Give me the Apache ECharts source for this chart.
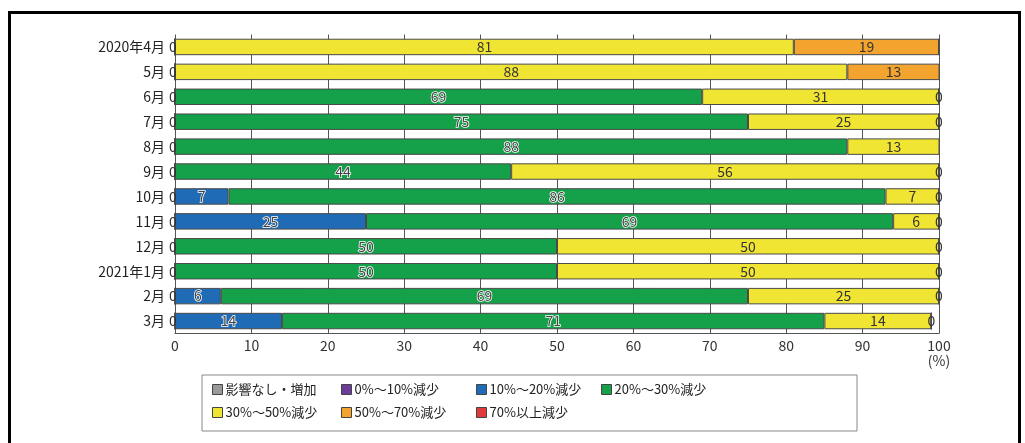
<!DOCTYPE html>
<html>
<head>
<meta charset="utf-8">
<script src="https://cdn.jsdelivr.net/npm/echarts@6/dist/echarts.min.js"></script>
<style>
  html, body { margin: 0; padding: 0; background: #fff; }
  #chart { width: 1025px; height: 443px; }
</style>
</head>
<body>
<div id="chart"></div>
<script>
// Months (fiscal year 2020)
const months = ['2020年4月', '5月', '6月', '7月', '8月', '9月', '10月', '11月', '12月', '2021年1月', '2月', '3月'];

// Share of operators (%) by decline band
const noEffect   = [0, 0, 0, 0, 0, 0, 0, 0, 0, 0, 0, 0];
const decl0to10  = [0, 0, 0, 0, 0, 0, 0, 0, 0, 0, 0, 0];
const decl10to20 = [0, 0, 0, 0, 0, 0, 7, 25, 0, 0, 6, 14];
const decl20to30 = [0, 0, 69, 75, 88, 44, 86, 69, 50, 50, 69, 71];
const decl30to50 = [81, 88, 31, 25, 13, 56, 7, 6, 50, 50, 25, 14];
const decl50to70 = [19, 13, 0, 0, 0, 0, 0, 0, 0, 0, 0, 0];
const decl70plus = [0, 0, 0, 0, 0, 0, 0, 0, 0, 0, 0, 0];

const xTicks = [0, 10, 20, 30, 40, 50, 60, 70, 80, 90, 100];

const names = ['影響なし・増加', '0%〜10%減少', '10%〜20%減少', '20%〜30%減少', '30%〜50%減少', '50%〜70%減少', '70%以上減少'];
const colors = ['#9a9a9a', '#6b3c98', '#1f6bb6', '#15a04a', '#f1e534', '#f3a42f', '#e03a3a'];
const values = [noEffect, decl0to10, decl10to20, decl20to30, decl30to50, decl50to70, decl70plus];

const FONT = '"Noto Sans CJK JP", "Noto Sans", sans-serif';

function labelFor(idx) {
  // the first and the 50–70% bands print every value, zeros included
  if (idx === 0 || idx === 5) {
    return {
      show: true, position: 'inside', fontSize: 14, fontFamily: FONT, color: '#333',
      offset: idx === 0 ? [-2, 0] : [0, 0],
      formatter: p => String(p.value)
    };
  }
  if (idx === 2 || idx === 3) {
    return {
      show: true, position: 'inside', fontSize: 14, fontFamily: FONT, color: '#444',
      textBorderColor: '#fff', textBorderWidth: 1.5,
      formatter: p => p.value > 0 ? String(p.value) : ''
    };
  }
  if (idx === 4) {
    return {
      show: true, position: 'inside', fontSize: 14, fontFamily: FONT, color: '#333',
      formatter: p => p.value > 0 ? String(p.value) : ''
    };
  }
  return { show: false };
}

const series = names.map((n, i) => ({
  name: n,
  type: 'bar',
  stack: 'total',
  barCategoryGap: '34%',
  data: values[i],
  itemStyle: { color: colors[i], borderColor: '#4a4a4a', borderWidth: 1 },
  label: labelFor(i),
  emphasis: { disabled: true },
  z: 3
}));

const legendCols = [
  { left: 212, items: [names[0], names[4]] },
  { left: 341, items: [names[1], names[5]] },
  { left: 476, items: [names[2], names[6]] },
  { left: 601, items: [names[3]] }
];

const chart = echarts.init(document.getElementById('chart'));
chart.setOption({
  animation: false,
  backgroundColor: '#fff',
  grid: { left: 175, right: 86, top: 34.5, bottom: 109.5 },
  xAxis: {
    type: 'value', min: 0, max: 100, interval: 10,
    axisLine: { show: true, lineStyle: { color: '#555', width: 1 } },
    axisTick: { show: false },
    splitLine: { show: true, lineStyle: { color: '#555', width: 1 } },
    axisLabel: {
      fontSize: 14, fontFamily: FONT, color: '#333', margin: 5, lineHeight: 15,
      formatter: v => xTicks.indexOf(v) === xTicks.length - 1 ? v + '\n(%)' : String(v)
    }
  },
  yAxis: {
    type: 'category', data: months, inverse: true,
    axisLine: { show: false }, axisTick: { show: false }, splitLine: { show: false },
    axisLabel: { fontSize: 14, fontFamily: FONT, color: '#222', margin: 10 }
  },
  legend: legendCols.map(c => ({
    data: c.items, left: c.left, top: 383, orient: 'vertical', itemGap: 10, padding: 0,
    itemWidth: 10, itemHeight: 10, icon: 'rect', selectedMode: false,
    itemStyle: { borderColor: '#444', borderWidth: 1 },
    textStyle: { fontSize: 13, fontFamily: FONT, color: '#222', padding: [0, 0, 0, -2] }
  })),
  graphic: [
    { type: 'rect', shape: { x: 202, y: 375, width: 655, height: 56 },
      style: { fill: 'none', stroke: '#888', lineWidth: 1 }, z: 0 },
    { type: 'rect', shape: { x: 9.5, y: 12.5, width: 1010, height: 460 },
      style: { fill: 'none', stroke: '#000', lineWidth: 3 }, z: 0 }
  ],
  series: series
});
</script>
</body>
</html>
